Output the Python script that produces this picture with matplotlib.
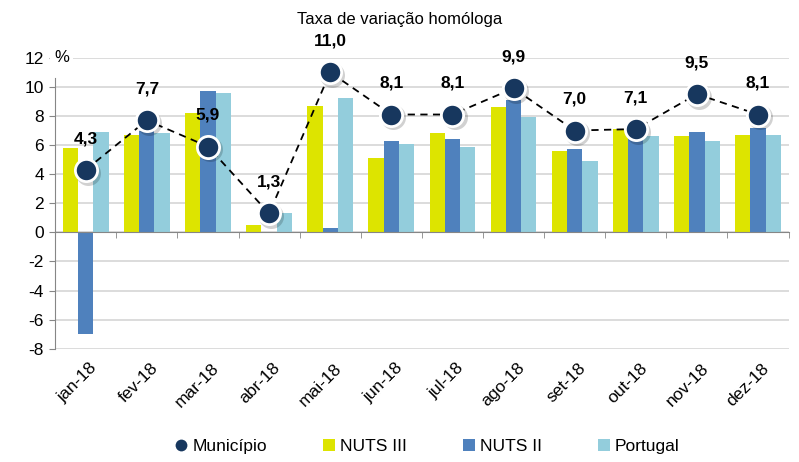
import matplotlib.pyplot as plt
import matplotlib.transforms as mtransforms
from matplotlib.lines import Line2D
import numpy as np

plt.rcParams["axes.unicode_minus"] = False
plt.rcParams["font.family"] = "Liberation Sans"

# dados
meses = ["jan-18", "fev-18", "mar-18", "abr-18", "mai-18", "jun-18",
         "jul-18", "ago-18", "set-18", "out-18", "nov-18", "dez-18"]
municipio = [4.3, 7.7, 5.9, 1.3, 11.0, 8.1, 8.1, 9.9, 7.0, 7.1, 9.5, 8.1]
nuts3 = [5.8, 6.7, 8.2, 0.5, 8.7, 5.1, 6.8, 8.6, 5.6, 7.1, 6.6, 6.7]
nuts2 = [-7.0, 7.0, 9.7, 0.0, 0.3, 6.3, 6.4, 9.1, 5.7, 6.8, 6.9, 7.2]
portugal = [6.9, 6.8, 9.6, 1.3, 9.2, 6.1, 5.9, 7.9, 4.9, 6.6, 6.3, 6.7]

c_nuts3 = "#DDE400"
c_nuts2 = "#4F81BD"
c_pt = "#93CDDC"
c_mun = "#17375E"

fig = plt.figure(figsize=(7.99, 4.62), dpi=100)
ax = fig.add_axes([0.069, 0.245, 0.918, 0.63])

x = np.arange(len(meses))
w = 0.25
b1 = ax.bar(x - w, nuts3, w, color=c_nuts3, zorder=2)
b2 = ax.bar(x, nuts2, w, color=c_nuts2, zorder=2)
b3 = ax.bar(x + w, portugal, w, color=c_pt, zorder=2)

# sombra dos marcadores
shadow = mtransforms.offset_copy(ax.transData, fig=fig, x=1.5, y=-2, units="points")
ax.plot(x, municipio, "o", ms=18, color="#000000", alpha=0.18, mec="none",
        transform=shadow, zorder=3)
ax.plot(x, municipio, ls=(0, (4, 3)), color="black", lw=1.3, marker="o", ms=16,
        mfc=c_mun, mec="white", mew=2, zorder=4)

for xi, v in zip(x, municipio):
    ax.annotate(f"{v:.1f}".replace(".", ","), (xi, v), xytext=(0, 17),
                textcoords="offset points", ha="center", va="bottom",
                fontsize=12.5, fontweight="bold")

ax.set_xlim(-0.5, 11.5)
ax.set_ylim(-8, 12)
ax.set_yticks(range(-8, 13, 2))
ax.tick_params(axis="y", labelsize=12.5, length=4, color="#868686", pad=4)
ax.grid(axis="y", color="#D9D9D9", lw=1.3, zorder=0)
ax.set_axisbelow(True)

for s in ["top", "right"]:
    ax.spines[s].set_visible(False)
ax.spines["left"].set_color("#868686")
ax.spines["left"].set_bounds(-8, 10.6)
ax.spines["bottom"].set_position(("data", 0))
ax.spines["bottom"].set_color("#868686")

ax.set_xticks(x)
ax.set_xticklabels([])
ax.tick_params(axis="x", which="major", length=0)
ax.set_xticks(np.arange(-0.5, 12, 1), minor=True)
ax.tick_params(axis="x", which="minor", length=4, color="#868686", direction="out")

trans = mtransforms.blended_transform_factory(ax.transData, ax.transAxes)
for xi, lab in zip(x, meses):
    ax.text(xi + 0.06, -0.04, lab, transform=trans, rotation=45, ha="right",
            va="top", rotation_mode="anchor", fontsize=12.5)

ax.text(-0.52, 12, "%", ha="left", va="center", fontsize=12,
        bbox=dict(facecolor="white", edgecolor="none", pad=3))

fig.text(0.5, 0.958, "Taxa de variação homóloga", ha="center", va="center",
         fontsize=12)

mun_handle = Line2D([], [], ls="none", marker="o", ms=10, mfc=c_mun, mec="white", mew=1.5)
fig.legend([mun_handle, b1, b2, b3], ["Município", "NUTS III", "NUTS II", "Portugal"],
           loc="center", bbox_to_anchor=(0.535, 0.033), ncol=4, frameon=False,
           columnspacing=3.2, handlelength=0.7, handleheight=0.7, handletextpad=0.3,
           prop={"size": 12.5})

fig.savefig("out.png", dpi=100)
